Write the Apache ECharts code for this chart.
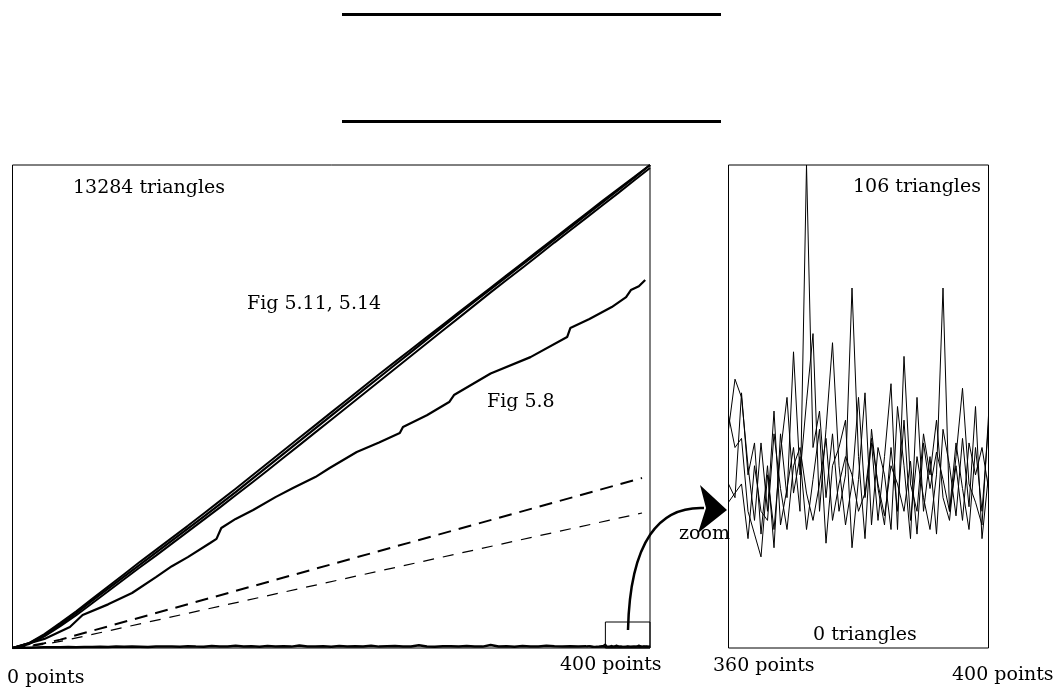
<!DOCTYPE html>
<html>
<head>
<meta charset="utf-8">
<script src="https://cdn.jsdelivr.net/npm/echarts@6/dist/echarts.min.js"></script>
<style>
  html, body { margin: 0; padding: 0; background: #fff; }
  #main { width: 1058px; height: 692px; }
</style>
</head>
<body>
<div id="main"></div>
<script>
// left panel: 0..400 points, 0..13284 triangles
const mainX = [0, 10, 20, 30, 40, 50, 60, 70, 80, 90, 100, 110, 120, 130, 140, 150, 160, 170, 180, 190, 200,
  210, 220, 230, 240, 250, 260, 270, 280, 290, 300, 310, 320, 330, 340, 350, 360, 370, 380, 390, 400]
const fig511 = [0, 120, 350, 640, 960, 1300, 1630, 1960, 2290, 2620, 2950, 3280, 3610, 3950, 4290, 4640, 4990, 5340, 5690, 6040, 6390,
  6740, 7090, 7440, 7790, 8140, 8490, 8840, 9190, 9530, 9870, 10210, 10550, 10890, 11230, 11570, 11910, 12250, 12590, 12930, 13284]
const fig514 = [0, 130, 380, 690, 1010, 1350, 1690, 2030, 2370, 2700, 3030, 3360, 3700, 4040, 4380, 4730, 5080, 5430, 5780, 6130, 6480,
  6830, 7180, 7530, 7870, 8210, 8550, 8890, 9230, 9570, 9910, 10250, 10590, 10930, 11270, 11610, 11950, 12290, 12620, 12950, 13284]
const fig514b = [0, 100, 320, 600, 900, 1230, 1560, 1890, 2220, 2540, 2870, 3200, 3530, 3860, 4200, 4540, 4880, 5230, 5580, 5930, 6280,
  6630, 6980, 7330, 7680, 8030, 8380, 8730, 9080, 9430, 9780, 10120, 10460, 10800, 11150, 11490, 11830, 12170, 12510, 12860, 13200]

// Fig 5.8 curve [points, triangles]
const fig58 = [[0, 0], [20, 250], [36, 578], [44, 907], [60, 1200], [75, 1512], [90, 1950], [100, 2250], [110, 2500],
  [124, 2887], [128, 3000], [131, 3300], [140, 3550], [151, 3795], [165, 4150], [176, 4400], [190, 4700], [199, 4950],
  [216, 5390], [230, 5650], [243, 5912], [245, 6080], [260, 6400], [274, 6765], [277, 6957], [300, 7550], [325, 8000],
  [348, 8552], [350, 8800], [362, 9050], [376, 9377], [385, 9650], [388, 9845], [393, 9950], [397, 10120]]

const dashHeavy = [[0, 0], [10, 50], [20, 130], [30, 230], [395, 4675]]
const dashLight = [[0, 0], [10, 40], [20, 100], [30, 180], [395, 3712]]

// near-zero curve, every 5 points from 0 to 360
const bottomVals = [0, 4, 10, 14, 18, 22, 20, 26, 24, 30,
  28, 34, 30, 38, 33, 40, 36, 30, 42, 38,
  44, 35, 48, 40, 36, 52, 42, 38, 60, 40,
  46, 35, 55, 42, 48, 38, 70, 44, 40, 50,
  36, 58, 42, 48, 40, 65, 38, 46, 52, 40,
  44, 75, 42, 36, 50, 46, 40, 58, 44, 38,
  80, 42, 48, 36, 54, 44, 40, 62, 46, 38,
  50, 44, 48]

// zoomed panel: 360..400 points, 0..106 triangles
const zoomX = [360, 361, 362, 363, 364, 365, 366, 367, 368, 369, 370, 371, 372, 373, 374, 375, 376, 377, 378, 379, 380,
  381, 382, 383, 384, 385, 386, 387, 388, 389, 390, 391, 392, 393, 394, 395, 396, 397, 398, 399, 400]
const runA = [48, 59, 55, 40, 28, 45, 30, 52, 27, 35, 44, 30, 106, 44, 52, 33, 47, 30, 38, 79, 42,
  24, 48, 35, 27, 44, 30, 50, 28, 42, 33, 26, 38, 79, 30, 45, 35, 26, 44, 30, 49]
const runB = [36, 33, 56, 38, 45, 25, 40, 22, 47, 33, 65, 38, 54, 69, 30, 48, 67, 40, 27, 36, 55,
  33, 45, 28, 42, 58, 26, 64, 36, 30, 47, 38, 50, 33, 28, 42, 57, 36, 32, 27, 51]
const runC = [51, 44, 46, 30, 25, 20, 38, 26, 43, 55, 34, 42, 26, 37, 48, 23, 40, 44, 50, 22, 37,
  56, 27, 44, 38, 26, 53, 40, 24, 55, 30, 42, 25, 48, 40, 29, 46, 31, 53, 24, 38]
const runD = [32, 34, 36, 24, 40, 30, 28, 47, 35, 26, 40, 44, 34, 28, 36, 46, 28, 36, 42, 38, 30,
  34, 46, 36, 29, 40, 36, 30, 41, 25, 45, 35, 43, 37, 30, 40, 28, 45, 38, 44, 35]

const pair = (xs, ys) => ys.map((v, i) => [xs[i], v])
const bottomData = bottomVals.map((v, i) => [i * 5, v])
const zoomRuns = [runA, runB, runC, runD]

const chart = echarts.init(document.getElementById('main'))
const serif = 'DejaVu Serif'

const hiddenAxis = {
  axisLine: { show: false },
  axisTick: { show: false },
  axisLabel: { show: false },
  splitLine: { show: false }
}

const line = (name, data, width, extra) => Object.assign({
  name: name,
  type: 'line',
  data: data,
  symbol: 'none',
  silent: true,
  animation: false,
  lineStyle: { color: '#000', width: width }
}, extra || {})

const series = [
  line('Fig 5.11', pair(mainX, fig511), 2.2),
  line('Fig 5.14', pair(mainX, fig514), 2),
  line('Fig 5.14b', pair(mainX, fig514b), 2),
  line('Fig 5.8', fig58, 2.2),
  line('dash heavy', dashHeavy, 2, { lineStyle: { color: '#000', width: 2, type: [13, 8] } }),
  line('dash light', dashLight, 1.2, { lineStyle: { color: '#000', width: 1.2, type: [11, 9] } }),
  line('bottom', bottomData, 2.5, {
    markArea: {
      silent: true,
      itemStyle: { color: 'rgba(0,0,0,0)', borderColor: '#000', borderWidth: 1 },
      data: [[{ coord: [372, 0] }, { coord: [400, 715] }]]
    }
  })
]
zoomRuns.forEach((run, k) => {
  series.push(line('left run ' + k, pair(zoomX, run), 1.5))
  series.push(line('zoom run ' + k, pair(zoomX, run), 1, { xAxisIndex: 1, yAxisIndex: 1 }))
})

// text placed by its vertical centre
const txt = (x, cy, text) => ({
  type: 'text',
  left: x,
  top: cy - 10,
  style: { text: text, font: '19px "' + serif + '"', fill: '#000' }
})

const option = {
  backgroundColor: '#fff',
  animation: false,
  grid: [
    { left: 12.5, top: 165, width: 637.5, height: 483, show: true, borderColor: '#000', borderWidth: 1 },
    { left: 728.5, top: 165, width: 260, height: 483, show: true, borderColor: '#000', borderWidth: 1 }
  ],
  xAxis: [
    Object.assign({ type: 'value', gridIndex: 0, min: 0, max: 400 }, hiddenAxis),
    Object.assign({ type: 'value', gridIndex: 1, min: 360, max: 400 }, hiddenAxis)
  ],
  yAxis: [
    Object.assign({ type: 'value', gridIndex: 0, min: 0, max: 13284 }, hiddenAxis),
    Object.assign({ type: 'value', gridIndex: 1, min: 0, max: 106 }, hiddenAxis)
  ],
  series: series,
  graphic: [
    { type: 'rect', shape: { x: 342, y: 13, width: 379, height: 3 }, style: { fill: '#000' } },
    { type: 'rect', shape: { x: 342, y: 120, width: 379, height: 3 }, style: { fill: '#000' } },
    {
      type: 'bezierCurve',
      shape: { x1: 628, y1: 630, cpx1: 630, cpy1: 540, cpx2: 660, cpy2: 506, x2: 704, y2: 508 },
      style: { stroke: '#000', lineWidth: 2.5, fill: null }
    },
    {
      type: 'polygon',
      shape: { points: [[727, 510], [700, 485], [706, 508], [698, 533]] },
      style: { fill: '#000' }
    },
    txt(73, 189, '13284 triangles'),
    txt(247, 305, 'Fig 5.11, 5.14'),
    txt(487, 403, 'Fig 5.8'),
    txt(7, 679, '0 points'),
    txt(560, 666, '400 points'),
    txt(713, 667, '360 points'),
    txt(952, 676, '400 points'),
    txt(853, 188, '106 triangles'),
    txt(813, 636, '0 triangles'),
    txt(679, 535, 'zoom')
  ]
}
chart.setOption(option)
</script>
</body>
</html>
